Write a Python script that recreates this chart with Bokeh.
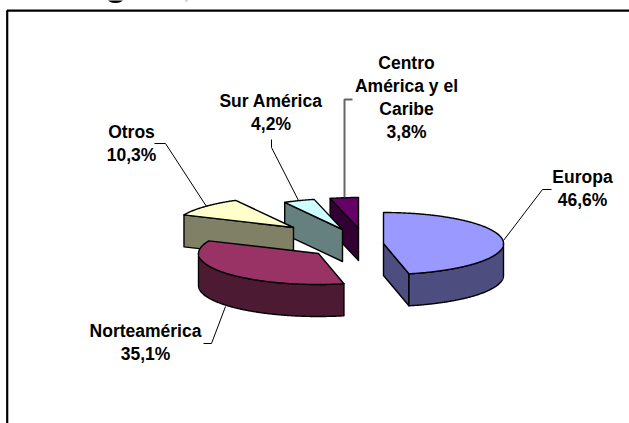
import numpy as np
from bokeh.plotting import figure
from bokeh.embed import file_html
from bokeh.resources import INLINE
from bokeh.core.properties import value

# --- chart data ---
regions = ["Europa", "Norteamérica", "Otros", "Sur América", "Centro América y el Caribe"]
shares = [46.6, 35.1, 10.3, 4.2, 3.8]
share_labels = ["46,6%", "35,1%", "10,3%", "4,2%", "3,8%"]
top_colors = ["#9999FF", "#993366", "#FFFFCC", "#CCFFFF", "#660066"]
side_colors = ["#4D4D80", "#4D1A33", "#808066", "#668080", "#330033"]

# --- layout (pixel-space, y downwards) ---
W, H = 629, 423
A, B, DEPTH = 120, 31, 32
apexes = [(383, 243), (318, 253), (293, 227), (342, 229), (358, 228)]
label_lines = [["Europa", "46,6%"], ["Norteamérica", "35,1%"], ["Otros", "10,3%"],
               ["Sur América", "4,2%"], ["Centro", "América y el", "Caribe", "3,8%"]]
label_xy = [(582, 176), (145, 330), (131, 131), (270.5, 100), (406, 62)]
LINE_H = 23
leaders = [([503, 542, 551], [240, 189, 189], "#000000", 1),
           ([225, 211, 203], [306, 343, 343], "#000000", 1),
           ([206, 165, 154], [206, 143, 143], "#000000", 1),
           ([298, 271, 271], [200, 147, 139], "#000000", 1),
           ([344, 344, 352], [197, 99, 99], "#666666", 2)]

p = figure(width=W, height=H, x_range=(0, 629), y_range=(423, 0),
           toolbar_location=None, output_backend="svg", min_border=0,
           x_axis_type=None, y_axis_type=None, margin=0)
p.grid.visible = False
p.outline_line_color = None
p.background_fill_color = "white"
p.border_fill_color = "white"


def rim(c, t0, t1):
    t = np.radians(np.linspace(t0, t1, max(int(abs(t1 - t0) * 2), 2)))
    return c[0] + A * np.sin(t), c[1] - B * np.cos(t)


# frame of the chart area (runs off the picture at right and bottom)
p.line([629, 6.7, 6.7], [10.2, 10.2, 423], line_color="#000000", line_width=2.2)

# clipped remains of the title above the frame
p.ellipse([115], [-1], width=15, height=7, fill_color="#000000", line_color=None)
p.ellipse([186], [-1], width=3, height=4, fill_color="#999999", line_color=None)

edges = np.concatenate([[0], np.cumsum(shares)]) / sum(shares) * 360
outline = dict(line_color="#000000", line_width=1.4, line_join="round")

# painter's order: farthest slice first
for i in [4, 3, 2, 1, 0]:
    t0, t1 = edges[i], edges[i + 1]
    c = apexes[i]
    # radial cut face turned to the viewer
    if i == 0:
        cut = t1
    elif i >= 2:
        cut = t0
    else:
        cut = None
    if cut is not None:
        rx, ry = rim(c, cut, cut)
        rx, ry = rx[0], ry[0]
        p.patch([c[0], rx, rx, c[0]], [c[1], ry, ry + DEPTH, c[1] + DEPTH],
                fill_color=side_colors[i], **outline)
    # curved outer wall on the front half of the ellipse
    a0, a1 = max(t0, 90), min(t1, 270)
    if a1 > a0:
        wx, wy = rim(c, a0, a1)
        p.patch(np.r_[wx, wx[::-1]], np.r_[wy, wy[::-1] + DEPTH],
                fill_color=side_colors[i], **outline)
    # top face
    tx, ty = rim(c, t0, t1)
    p.patch(np.r_[c[0], tx], np.r_[c[1], ty], fill_color=top_colors[i], **outline)

for xs, ys, col, lw in leaders:
    p.line(xs, ys, line_color=col, line_width=lw)

for lines, (x, y) in zip(label_lines, label_xy):
    p.text([x] * len(lines), [y + k * LINE_H for k in range(len(lines))], text=lines,
           text_font=value("Liberation Sans"), text_font_style="bold",
           text_font_size="17.5px", text_color="#000000",
           text_align="center", text_baseline="middle")

open("out.html", "w").write(file_html(p, INLINE))
